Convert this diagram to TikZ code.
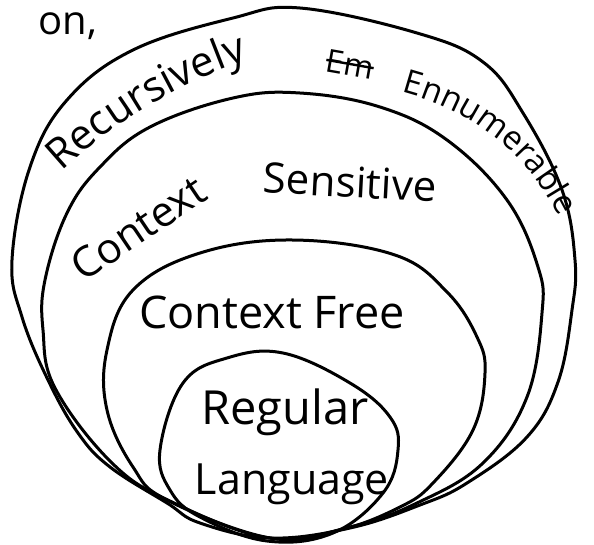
\documentclass[tikz,border=0pt]{standalone}
\usepackage{fontspec}
\setmainfont{Open Sans}
\usetikzlibrary{decorations.text}
\newcommand{\handsize}[1]{\fontsize{#1}{#1}\selectfont}

\begin{document}
\begin{tikzpicture}[
    x=1pt, y=-1pt,
    langset/.style={draw, line width=3pt, line join=round},
    lbl/.style={inner sep=0pt},
    curved/.style={decorate, decoration={text along path, text align=center, text={#1}}}
]
\useasboundingbox (0,0) rectangle (594,544);

% the four classes, all touching at the bottom
\draw[langset] plot[smooth cycle, tension=0.65] coordinates {(270,538) (200,523) (167,503) (110,467) (78,433) (48,380) (22,317) (12,260) (30,167) (67,100) (133,50) (233,18) (300,8) (417,33) (483,62) (523,113) (562,190) (575,260) (572,310) (558,382) (527,437) (467,483) (420,505) (350,528)};
\draw[langset] plot[smooth cycle, tension=0.65] coordinates {(270,538) (172,502) (112,463) (55,388) (43,330) (45,280) (67,213) (100,167) (150,127) (233,98) (300,93) (380,107) (447,140) (507,200) (538,267) (542,313) (527,397) (483,463) (417,503) (350,527)};
\draw[langset] plot[smooth cycle, tension=0.65] coordinates {(270,538) (167,500) (133,467) (107,410) (107,350) (133,290) (200,253) (293,240) (395,255) (447,292) (477,337) (485,373) (473,430) (433,483) (400,507) (340,530)};
\draw[langset] plot[smooth cycle, tension=0.65] coordinates {(267,541) (333,533) (383,493) (398,450) (390,417) (350,383) (283,353) (227,358) (183,383) (160,450) (170,490) (200,517)};

\node[lbl] (on) at (68,26) {\handsize{40}on,};

\path[curved={|\handsize{42}|Recursively}] (36,196) .. controls (100,130) and (180,76) .. (282,50);
\node[lbl, rotate=-10] (em) at (350,64) {\handsize{32}Em};
\draw[line width=2.4pt] (em.west) -- (em.east);
\path[curved={|\handsize{33}|Ennumerable}] (384,88) .. controls (465,104) and (532,150) .. (566,234);

\node[lbl, rotate=34] (csa) at (138,228) {\handsize{42}Context};
\node[lbl, rotate=-3] (csb) at (350,182) {\handsize{42}Sensitive};

\node[lbl] (cf) at (272,312) {\handsize{45}Context Free};

\node[lbl] (rega) at (285,412) {\handsize{47}Regular};
\node[lbl] (regb) at (292,484) {\handsize{43}Language};
\end{tikzpicture}
\end{document}
